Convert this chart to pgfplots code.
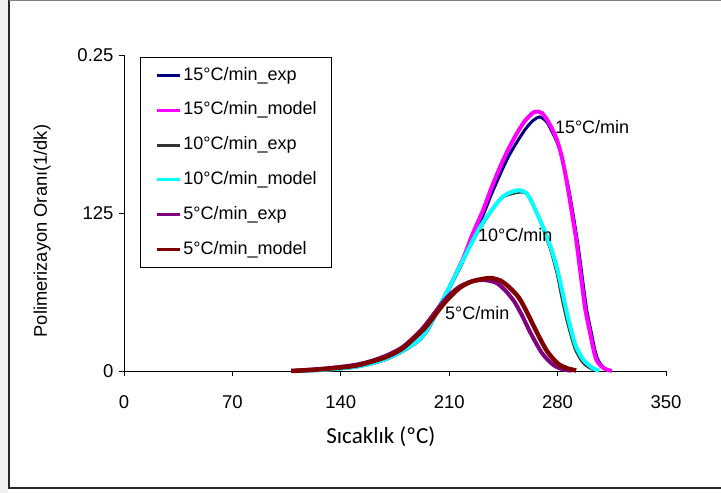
\documentclass[border=0pt]{standalone}
\usepackage{fontspec}
\setmainfont{Liberation Sans}
\newfontfamily\carlito{Carlito}
\usepackage{pgfplots}
\pgfplotsset{compat=1.18}
\definecolor{cnavy}{RGB}{0,0,128}
\definecolor{cmag}{RGB}{255,0,255}
\definecolor{cgray}{RGB}{51,51,51}
\definecolor{ccyan}{RGB}{0,255,255}
\definecolor{cpurp}{RGB}{128,0,128}
\definecolor{cdred}{RGB}{128,0,0}
\begin{document}
\begin{tikzpicture}
\path[use as bounding box] (-124bp,-122bp) rectangle (597bp,371bp);
\fill[black!6] (-124bp,-122bp) rectangle (-116bp,371bp);
\draw[line width=2bp, black!85] (-115bp,371bp) -- (-115bp,-117bp) -- (597bp,-117bp);
\draw[gray, line width=1bp] (-115bp,370.5bp) -- (597bp,370.5bp);
\begin{axis}[
  at={(0,0)}, anchor=origin,
  scale only axis, width=542bp, height=316bp,
  xmin=0, xmax=350, ymin=0, ymax=250,
  axis x line=bottom, axis y line=left,
  axis line style={-, line width=0.8bp, black},
  tick style={line width=0.8bp, black},
  tick align=outside, major tick length=5bp,
  xtick={0,70,140,210,280,350},
  ytick={0,125,250}, yticklabels={0,125,0.25},
  /pgf/number format/assume math mode=true,
  tick label style={font=\fontsize{18.5bp}{21bp}\selectfont},
  xticklabel style={anchor=center, yshift=-26.5bp},
  yticklabel style={xshift=-2bp},
  xlabel={Sıcaklık (ºC)},
  xlabel style={font=\carlito\fontsize{23bp}{26bp}\selectfont, at={(axis description cs:0.474,-0.209)}, anchor=center},
  ylabel={Polimerizayon Oranı(1/dk)},
  ylabel style={font=\fontsize{18.3bp}{21bp}\selectfont, at={(axis description cs:-0.151,0.443)}, anchor=center, rotate=0},
  legend cell align=left,
  legend image code/.code={\draw[#1, line width=3bp] (0bp,0bp) -- (23bp,0bp);},
  legend style={at={(rel axis cs:0.0295,0.9937)}, anchor=north west,
    draw=black, line width=0.8bp,
    font=\fontsize{18bp}{21bp}\selectfont,
    nodes={inner sep=0pt, text height=12.8bp, text depth=3.6bp},
    row sep=18.4bp, column sep=2bp,
    inner xsep=15bp, inner ysep=10bp},
  every axis plot/.append style={smooth, tension=0.45},
  clip=false,
]
% 15 exp
\addplot[cnavy, line width=3bp] coordinates {
(110,0)(120,0.4)(130,1)(140,2)(150,3.4)(160,5.8)(170,9.6)(180,15.5)(190,23.5)(196,32)(202,46)(210,65)(219,87)(225,105)(231.8,123)(237,139)(242.7,155)(248,169)(253.7,181)(259,191)(264,198)(268.6,201)(273,197)(277,188)(281,177)(284,162)(287,145)(290,124)(293,101)(295,83)(297,64)(299,47)(302,29)(304,17)(306,9)(309,3.5)(312,0.5)};
\addlegendentry{15°C/min\_exp}
% 15 model
\addplot[cmag, line width=4bp] coordinates {
(110,0)(120,0.4)(130,1)(140,2)(150,3.5)(160,6)(170,10)(180,16)(190,24)(196,33)(202,47)(210,66)(219,89)(225,108)(231.8,127)(237,144)(242.7,161)(248,175)(253.7,188)(259,198)(265,205)(270,204)(275,195)(279.5,183)(283,168)(286,149)(289,127)(292,104)(294,85)(296,66)(298,48)(301,30)(303,18)(305,9)(308,4)(311,1.5)(315,0)};
\addlegendentry{15°C/min\_model}
% 10 exp
\addplot[cgray, line width=1.5bp] coordinates {
(110,0)(120,0.4)(130,1)(140,2)(150,3.4)(160,5.8)(170,9.6)(180,15.5)(190,23.5)(196,32)(202,46)(210,65)(219,87)(230,112)(243,135)(250,139.5)(257,141)(262,138)(266,128)(270,113)(275,96)(279,78)(282,60)(285,43)(288,29)(291,17)(295,8)(298,4)(302,1)(305,0)};
\addlegendentry{10°C/min\_exp}
% 10 model
\addplot[ccyan, line width=4bp] coordinates {
(110,0)(120,0.4)(130,1)(140,2)(150,3.5)(160,6)(170,10)(180,16)(190,24)(196,33)(202,47)(210,66)(219,88)(230,114)(243,136)(250,141.5)(255,143)(260,140.5)(264,132)(270.5,114)(275,100)(279.5,82)(283,63)(286,46)(289,31)(292,19)(296,10)(299,6)(303,2)(307,0.3)};
\addlegendentry{10°C/min\_model}
% 5 exp
\addplot[cpurp, line width=4bp] coordinates {
(108,0)(120,1)(130,2)(140,3.3)(150,5)(160,8)(170,12.5)(180,19)(190,30)(195,37)(200,45)(205,53)(210,60)(217,67)(225,71)(232,72)(240,70)(246,64)(252,55)(257,44)(263,29)(270,14)(277,5)(283,1.5)(289,0.2)};
\addlegendentry{5°C/min\_exp}
% 5 model
\addplot[cdred, line width=4.5bp] coordinates {
(108,0)(120,0.8)(130,1.6)(140,2.8)(150,4.3)(160,7.5)(170,11.5)(180,18)(190,29)(195,35)(200,43)(205,51)(210,58)(217,66)(225,71)(236,73.5)(243,71.5)(249,66)(255,58)(260,47)(266,32)(273,16)(280,6)(286,2.2)(292,0.4)};
\addlegendentry{5°C/min\_model}
\node[anchor=west, inner sep=0pt, font=\fontsize{18bp}{21bp}\selectfont] at (axis cs:278.2,193) {15°C/min};
\node[anchor=west, inner sep=0pt, font=\fontsize{18bp}{21bp}\selectfont] at (axis cs:228.5,107.6) {10°C/min};
\node[anchor=west, inner sep=0pt, font=\fontsize{18bp}{21bp}\selectfont] at (axis cs:207.2,45.9) {5°C/min};
\end{axis}
\end{tikzpicture}
\end{document}
